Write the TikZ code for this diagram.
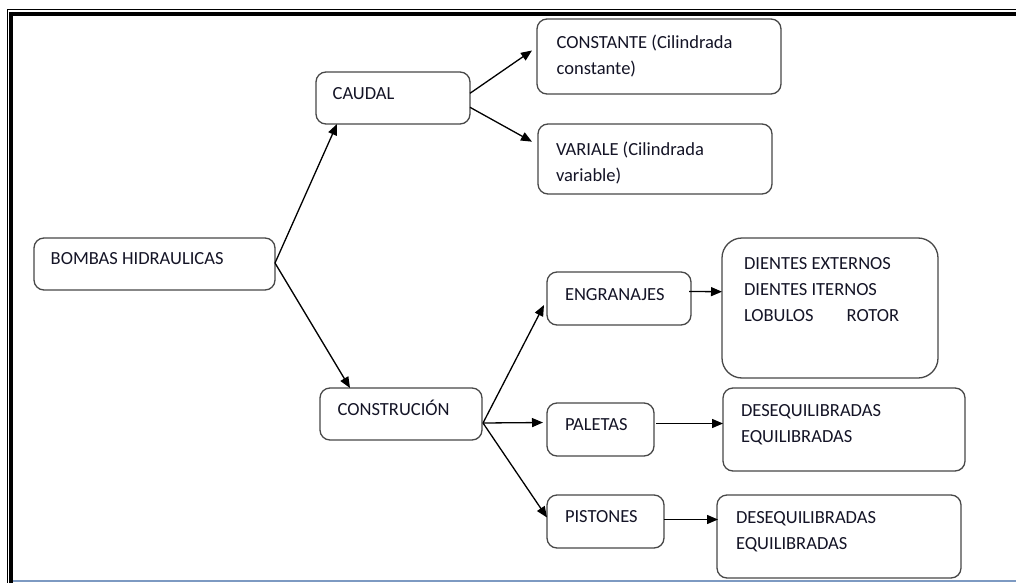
\documentclass[tikz,border=0pt]{standalone}
\usepackage{fontspec}
\setmainfont{Carlito}
\usetikzlibrary{arrows.meta,calc}

\definecolor{boxline}{RGB}{72,72,72}
\definecolor{inktext}{RGB}{20,20,38}
\definecolor{rulerblue}{RGB}{125,154,194}

\tikzset{
  box/.style={draw=boxline, line width=1.3pt, rounded corners=10pt,
              rectangle, inner sep=0pt, outer sep=0pt, fill=white},
  txt/.style={anchor=base west, inner sep=0pt, outer sep=0pt, text=inktext,
              font=\fontsize{18.5}{26}\selectfont},
  arr/.style={draw=black, line width=1.3pt,
              -{Triangle[length=11pt,width=9pt]}},
}

% two-line label whose reference point is the first baseline
\newcommand\twolines[2]{\vtop{\baselineskip=26pt\hbox{#1}\hbox{#2}}}

\begin{document}
\begin{tikzpicture}[x=1pt,y=-1pt]
\useasboundingbox (0,0) rectangle (1016,583);
\fill[white] (0,0) rectangle (1016,583);

% page frame: thin and thick rules on top and left, light rule at the bottom
\draw[line width=1pt] (7.2,9.5) -- (1016,9.5);
\draw[line width=4pt] (9,14) -- (1016,14);
\draw[line width=1pt] (7.2,9.5) -- (7.2,583);
\draw[line width=4pt] (11,12) -- (11,583);
\fill[rulerblue] (13,579.5) rectangle (1016,582.3);

% boxes
\node[box, minimum width=241pt, minimum height=52pt] (bombas) at (154.5,264) {};
\node[box, minimum width=154pt, minimum height=52pt] (caudal) at (393,98) {};
\node[box, minimum width=244pt, minimum height=75pt] (constante) at (659,56.5) {};
\node[box, minimum width=234pt, minimum height=70pt] (variale) at (655,159) {};
\node[box, minimum width=162pt, minimum height=52pt] (construcion) at (401,414) {};
\node[box, minimum width=144pt, minimum height=53pt] (engranajes) at (619,298.5) {};
\node[box, minimum width=107pt, minimum height=53pt] (paletas) at (600.5,429.5) {};
\node[box, minimum width=117pt, minimum height=53pt] (pistones) at (605.5,521.5) {};
\node[box, rounded corners=20pt, minimum width=216pt, minimum height=140pt] (dientes) at (830,308) {};
\node[box, minimum width=242pt, minimum height=83pt] (deseqa) at (844,429.5) {};
\node[box, minimum width=244pt, minimum height=83pt] (deseqb) at (839,536.5) {};

% labels
\node[txt] (bombas-t) at (50.7,264.3) {BOMBAS HIDRAULICAS};
\node[txt] (caudal-t) at (332.7,99.3) {CAUDAL};
\node[txt] (constante-t) at (556.7,48.3) {\twolines{CONSTANTE (Cilindrada}{constante)}};
\node[txt] (variale-t) at (556,155) {\twolines{VARIALE (Cilindrada}{variable)}};
\node[txt] (construcion-t) at (337.7,415.7) {CONSTRUCIÓN};
\node[txt] (engranajes-t) at (565,300) {ENGRANAJES};
\node[txt] (paletas-t) at (565,430) {PALETAS};
\node[txt] (pistones-t) at (565,522.3) {PISTONES};
\node[txt] (dientes-t) at (744,269.3)
  {\vtop{\baselineskip=26pt\hbox{DIENTES EXTERNOS}\hbox{DIENTES ITERNOS}\hbox{LOBULOS\hspace{33pt}ROTOR}}};
\node[txt] (deseqa-t) at (741,416.7) {\twolines{DESEQUILIBRADAS}{EQUILIBRADAS}};
\node[txt] (deseqb-t) at (736,523.3) {\twolines{DESEQUILIBRADAS}{EQUILIBRADAS}};

% connectors
\draw[arr] ($(bombas.east)+(0,-1)$) -- ($(caudal.south west)+(21,0)$);
\draw[arr] ($(bombas.east)+(0,-1)$) -- ($(construcion.north west)+(30,0)$);
\draw[arr] ($(caudal.east)+(0,-4.7)$) -- ($(constante.west)+(-5,-6)$);
\draw[arr] ($(caudal.east)+(0,9.3)$) -- ($(variale.west)+(-6,-17.3)$);
\draw[arr] ($(construcion.east)+(1,9)$) -- ($(engranajes.south west)+(-3,-20)$);
\draw[arr] ($(construcion.east)+(1,9)$) -- ($(paletas.west)+(-4,-7)$);
\draw[arr] ($(construcion.east)+(1,9)$) -- ($(pistones.west)+(0,-4)$);
\draw[arr] ($(engranajes.east)+(-2,-7)$) -- ($(dientes.west)+(0,-16.3)$);
\draw[arr] ($(paletas.east)+(2,-6)$) -- ($(deseqa.west)+(0,-6)$);
\draw[arr] ($(pistones.east)+(0,-2)$) -- ($(deseqb.west)+(1,-17)$);
\end{tikzpicture}
\end{document}
